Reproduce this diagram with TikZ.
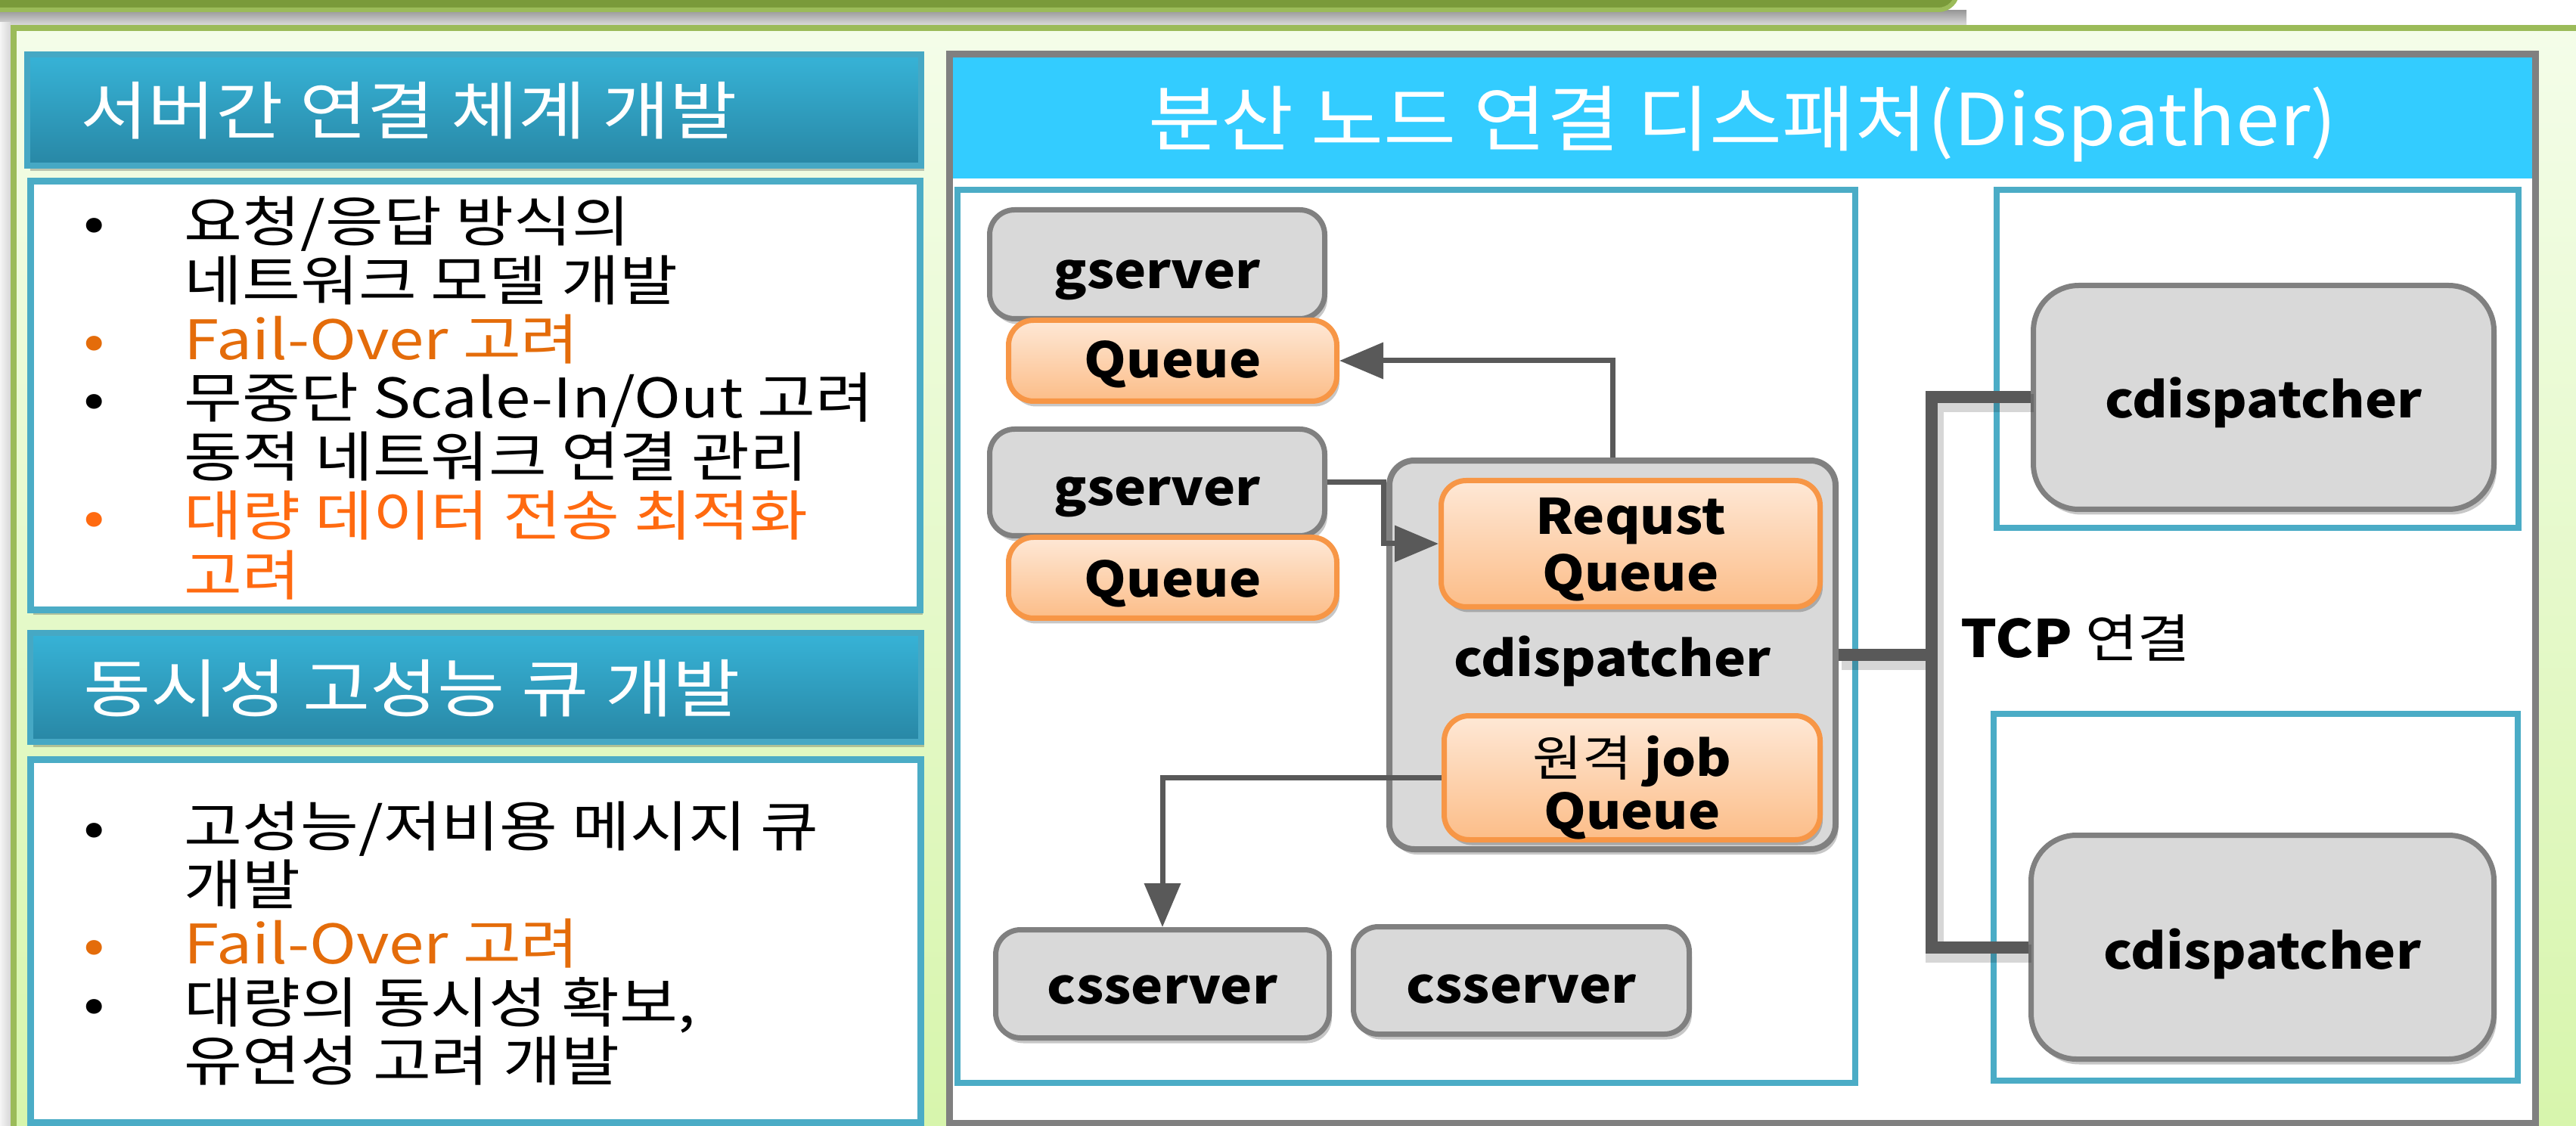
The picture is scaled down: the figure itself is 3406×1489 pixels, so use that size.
\documentclass[tikz,border=0pt]{standalone}
\usepackage{fontspec}
\setmainfont{Noto Sans CJK KR}[FakeStretch=1.16]
\newfontfamily\titlefont{Noto Sans CJK KR}[FakeStretch=1.1]
\newfontfamily\lblfont{Noto Sans CJK KR}[FakeStretch=1.1]
\usetikzlibrary{arrows.meta,shadows}
\definecolor{barDark}{HTML}{7A9A3A}
\definecolor{barLight}{HTML}{9BBB59}
\definecolor{outerTop}{HTML}{F4FDE9}
\definecolor{outerBot}{HTML}{D6F5AA}
\definecolor{hdrTop}{HTML}{37B3D7}
\definecolor{hdrBot}{HTML}{2887A5}
\definecolor{hdrLine}{HTML}{46A8C4}
\definecolor{tealLine}{HTML}{4BACC6}
\definecolor{panelGray}{HTML}{808080}
\definecolor{titleCyan}{HTML}{33CCFF}
\definecolor{nodeFill}{HTML}{D9D9D9}
\definecolor{nodeLine}{HTML}{808080}
\definecolor{qLine}{HTML}{F79646}
\definecolor{qTop}{HTML}{FEE8D6}
\definecolor{qBot}{HTML}{FCBD88}
\definecolor{arrowGray}{HTML}{595959}
\definecolor{txtOrangeA}{HTML}{E46C0A}
\definecolor{txtOrangeB}{HTML}{FF6A10}
\newcommand\twolines[3]{\vbox{\baselineskip=#1\halign{\hfil##\hfil\cr #2\cr #3\cr}}}
\newcommand\hng[1]{{\mdseries #1}}
\newcommand\bul{\makebox[0pt]{•}\hspace*{11.9mm}}
\begin{document}
\begin{tikzpicture}[x=0.1mm,y=-0.1mm,
  every node/.style={inner sep=0pt},
  softshadow/.style={drop shadow={shadow xshift=0.35mm, shadow yshift=-0.7mm, fill=black, opacity=0.22}},
  lblfnt/.style={font=\lblfont\fontsize{18.4pt}{21.3pt}\selectfont\bfseries},
  graynode/.style={draw=nodeLine, fill=nodeFill, line width=0.7mm, rounded corners=3.3mm, lblfnt, softshadow},
  queuenode/.style={draw=qLine, top color=qTop, bottom color=qBot, line width=0.7mm, rounded corners=3.3mm, lblfnt, softshadow},
  tb/.style={text height=#1, text depth=0pt},
  arr/.style={draw=arrowGray, line width=0.7mm, -{Triangle[length=5.8mm, width=4.7mm]}},
  tcpline/.style={draw=arrowGray, line width=1.6mm, line join=miter,
    preaction={draw=black, opacity=0.16, line width=2.4mm, transform canvas={shift={(0.4mm,-0.8mm)}}}},
  li/.style={anchor=base west, font=\fontsize{20.5pt}{23pt}\selectfont},
  hdrtext/.style={anchor=base west, text=white, font=\fontsize{23.8pt}{27pt}\selectfont},
  titletext/.style={anchor=base, text=white, font=\titlefont\fontsize{27pt}{31pt}\selectfont},
  hdrbox/.style={draw=hdrLine, line width=0.8mm, top color=hdrTop, bottom color=hdrBot, softshadow},
  listbox/.style={draw=tealLine, line width=0.9mm, fill=white, softshadow},
  innerbox/.style={draw=tealLine, line width=0.8mm}
]
\useasboundingbox (0,0) rectangle (3406,1489);
\fill[white] (0,0) rectangle (3406,1489);
% top bar and its shadow
\shade[top color=black!40, bottom color=black!12] (0,14) rectangle (2600,35);
\shade[left color=black!4, right color=black!16] (0,30) rectangle (14,1489);
\draw[fill=barDark, draw=barLight, line width=0.6mm, rounded corners=2.5mm] (-60,-80) rectangle (2588,13);
% outer panel
\draw[draw=barLight, line width=0.8mm, top color=outerTop, bottom color=outerBot] (18,37) rectangle (3500,1540);
% left column
\draw[hdrbox] (36,72) rectangle (1218,219);
\node[hdrtext] (h1) at (106,178) {서버간 연결 체계 개발};
\draw[listbox] (40.5,239.5) rectangle (1216,806);
\node[li] (a1) at (124,320) {\bul 요청/응답 방식의};
\node[li] (a2) at (243,398) {네트워크 모델 개발};
\node[li, text=txtOrangeA] (a3) at (124,476) {\bul Fail-Over 고려};
\node[li] (a4) at (124,553) {\bul 무중단 Scale-In/Out 고려};
\node[li] (a5) at (243,631) {동적 네트워크 연결 관리};
\node[li, text=txtOrangeB] (a6) at (124,709) {\bul 대량 데이터 전송 최적화};
\node[li, text=txtOrangeB] (a7) at (243,787) {고려};
\draw[hdrbox] (40,837) rectangle (1218,981);
\node[hdrtext] (h2) at (110,941) {동시성 고성능 큐 개발};
\draw[listbox] (40.5,1004.5) rectangle (1217.5,1484.5);
\node[li] (b1) at (124,1119) {\bul 고성능/저비용 메시지 큐};
\node[li] (b2) at (243,1196) {개발};
\node[li, text=txtOrangeA] (b3) at (124,1274) {\bul Fail-Over 고려};
\node[li] (b4) at (124,1352) {\bul 대량의 동시성 확보,};
\node[li] (b5) at (243,1429) {유연성 고려 개발};
% right panel
\draw[draw=panelGray, line width=0.9mm, fill=white, softshadow] (1255.5,72) rectangle (3352.5,1485);
\fill[titleCyan] (1260,76.5) rectangle (3348,236);
\node[titletext] (tt) at (2304,193) {분산 노드 연결 디스패처(Dispather)};
\draw[innerbox] (1266,251) rectangle (2453,1432);
\draw[innerbox] (2640,251) rectangle (3330,698);
\draw[innerbox] (2636,944) rectangle (3329,1429);
% nodes
\node[graynode, minimum width=44.3mm, minimum height=14.4mm, tb=6.5mm] (gs1) at (1530,349.5) {gserver};
\node[queuenode, minimum width=43.4mm, minimum height=10.7mm, tb=4.6mm] (q1) at (1550.5,477) {Queue};
\node[graynode, minimum width=44.3mm, minimum height=14.1mm, tb=6.2mm] (gs2) at (1530,638) {gserver};
\node[queuenode, minimum width=43.4mm, minimum height=10.7mm, tb=5mm] (q2) at (1550.5,764) {Queue};
\node[graynode, line width=0.8mm, minimum width=59mm, minimum height=51.4mm, tb=5.6mm] (cd) at (2132,866) {cdispatcher};
\node[queuenode, minimum width=50.1mm, minimum height=16.7mm, text height=12.5mm, text depth=0pt] (rq) at (2156,719) {\twolines{7.5mm}{Requst}{Queue}};
\node[queuenode, minimum width=49.7mm, minimum height=16.4mm, text height=13.6mm, text depth=0pt] (rj) at (2158,1028.5) {\twolines{7mm}{\hng{원격} job}{Queue}};
\node[graynode, minimum width=44.1mm, minimum height=14.3mm, tb=5.2mm] (cs1) at (1537,1301) {csserver};
\node[graynode, minimum width=44.4mm, minimum height=14.2mm, tb=6mm] (cs2) at (2011.5,1296.5) {csserver};
\node[graynode, rounded corners=6mm, minimum width=60.9mm, minimum height=29.6mm, tb=5.5mm] (cdT) at (2993,525.5) {cdispatcher};
\node[graynode, rounded corners=6mm, minimum width=61.2mm, minimum height=29.6mm, tb=5.7mm] (cdB) at (2991.5,1252.5) {cdispatcher};
% connectors
\draw[arr] (cd.north) |- (q1.east);
\draw[arr] (gs2.east) -- ++(74,0) |- (rq.west);
\draw[arr] (rj.west) -| (cs1.north);
\coordinate (tcp) at (2554,868);
\draw[tcpline] (cd.east) -- (cd.east -| tcp);
\draw[tcpline] (cdT.west) -- (cdT.west -| tcp) -- (cdB.west -| tcp) -- (cdB.west);
\node[anchor=base west, font=\lblfont\fontsize{19.5pt}{22pt}\selectfont] (tcpl) at (2592,869) {\textbf{TCP} 연결};
\end{tikzpicture}
\end{document}
